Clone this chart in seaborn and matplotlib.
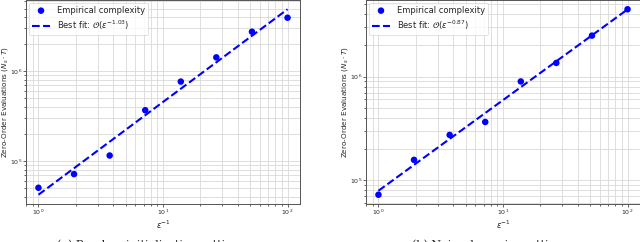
import numpy as np
import pandas as pd
import matplotlib
matplotlib.use("Agg")
import matplotlib.pyplot as plt
import seaborn as sns

# inverse tolerance values (x axis)
eps_inv = [1.0, 1.93, 3.73, 7.20, 13.9, 26.8, 51.8, 100.0]

# zero-order evaluations
evals_random = [50600, 71800, 115600, 369000, 769000, 1430000, 2760000, 3950000]
evals_noisy = [71700, 156000, 272000, 363000, 896000, 1355000, 2490000, 4480000]

fit_labels = [r"Best fit: $\mathcal{O}(\epsilon^{-1.03})$",
              r"Best fit: $\mathcal{O}(\epsilon^{-0.87})$"]
captions = ["(a) Random initialization setting", "(b) Noisy dynamics setting"]

sns.set_style("ticks")
plt.rcParams["font.family"] = ["DejaVu Sans"]

fig = plt.figure(figsize=(6.4, 2.42), dpi=100)
ax1 = fig.add_axes([26 / 640, 38 / 242, 274 / 640, 204 / 242])
ax2 = fig.add_axes([366 / 640, 38 / 242, 274 / 640, 204 / 242])


def draw_panel(ax, y, fit_label):
    df = pd.DataFrame({"x": eps_inv, "y": y})
    # power-law fit in log-log space
    slope, icpt = np.polyfit(np.log10(df["x"]), np.log10(df["y"]), 1)
    df["fit"] = 10 ** icpt * df["x"] ** slope

    sns.scatterplot(data=df, x="x", y="y", ax=ax, color="blue", s=22,
                    edgecolor="none", label="Empirical complexity", zorder=3)
    sns.lineplot(data=df, x="x", y="fit", ax=ax, color="blue", lw=1.5,
                 linestyle="--", label=fit_label, zorder=2)
    ax.set_xscale("log")
    ax.set_yscale("log")
    ax.grid(True, which="both", color="#d9d9d9", lw=0.6)
    ax.set_xlabel(r"$\epsilon^{-1}$", fontsize=6, labelpad=1)
    ax.set_ylabel(r"Zero-Order Evaluations ($N_s \cdot T$)", fontsize=5.2)
    ax.yaxis.set_label_coords(-0.057, 0.5)
    ax.tick_params(which="both", labelsize=4.5, length=2, width=0.5, pad=0.8)
    ax.tick_params(which="minor", length=1.2)
    for sp in ax.spines.values():
        sp.set_color("#555555")
        sp.set_linewidth(0.7)
    leg = ax.legend(loc="upper left", fontsize=6, frameon=True, borderpad=0.4,
                    handlelength=2.2, labelspacing=0.4, borderaxespad=0.3)
    leg.get_frame().set_linewidth(0.5)


draw_panel(ax1, evals_random, fit_labels[0])
draw_panel(ax2, evals_noisy, fit_labels[1])

fig.text(148 / 640, 3 / 242, captions[0], ha="center", va="top",
         fontsize=8, family="DejaVu Serif")
fig.text(487 / 640, 3 / 242, captions[1], ha="center", va="top",
         fontsize=8, family="DejaVu Serif")

fig.savefig("out.png", dpi=100)
